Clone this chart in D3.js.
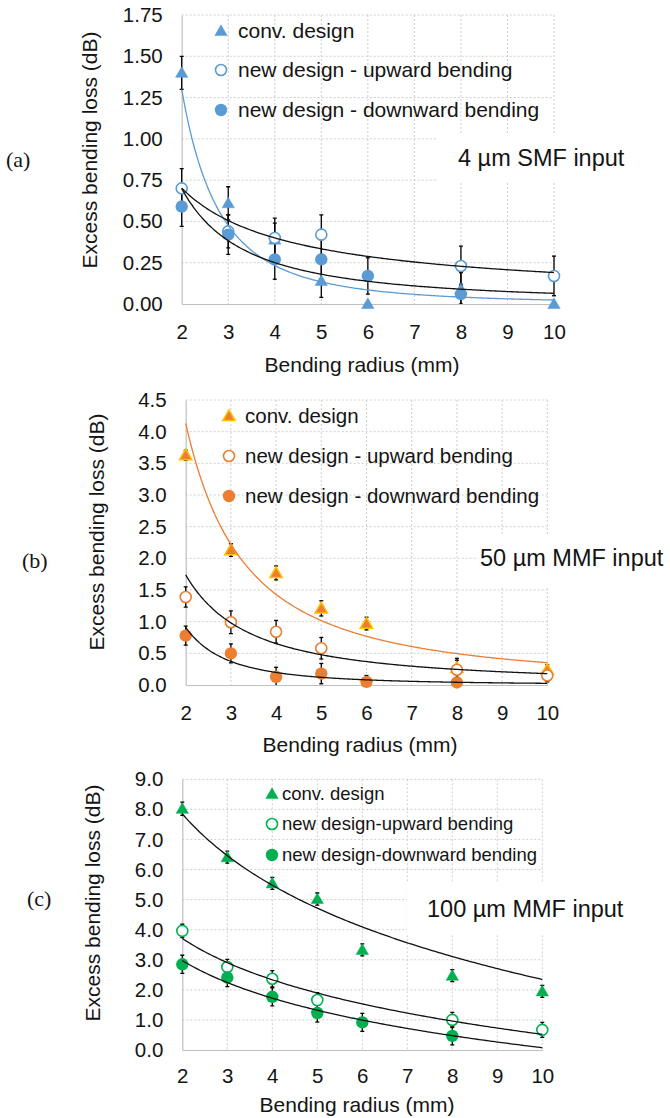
<!DOCTYPE html>
<html>
<head>
<meta charset="utf-8">
<script src="https://cdn.jsdelivr.net/npm/d3@7"></script>
<style>
  html, body { margin: 0; padding: 0; background: #fff; }
  svg { display: block; }
</style>
</head>
<body>
<svg id="fig" width="670" height="1118"></svg>
<script>
// Bending radii (mm) shared by all three panels
const radii = [2, 3, 4, 5, 6, 8, 10];
const xTicks = [2, 3, 4, 5, 6, 7, 8, 9, 10];

// (a) 4 µm SMF input
const aConv = [1.40, 0.61, 0.39, 0.14, 0.00, 0.09, 0.00];
const aConvErr = [0.10, 0.10, 0.10, 0.10, 0.00, 0.10, 0.00];
const aUp = [0.70, 0.44, 0.40, 0.42, null, 0.23, 0.17];
const aUpErr = [0.12, 0.10, 0.12, 0.12, 0, 0.12, 0.12];
const aDown = [0.59, 0.42, 0.27, 0.27, 0.17, 0.06, null];
const aDownErr = [0.12, 0.12, 0.12, 0.12, 0.11, 0.06, 0];
// power-law trendlines y = A * x^B
const aConvFit = [7.25, -2.48];
const aUpFit = [1.23, -0.81];
const aDownFit = [1.95, -1.48];
const aYTicks = [0, 0.25, 0.5, 0.75, 1.0, 1.25, 1.5, 1.75];

// (b) 50 µm MMF input
const bConv = [3.63, 2.13, 1.77, 1.21, 0.97, 0.27, 0.24];
const bConvErr = [0.08, 0.10, 0.11, 0.12, 0.10, 0.15, 0.08];
const bUp = [1.39, 0.99, 0.84, 0.58, null, 0.24, 0.15];
const bUpErr = [0.16, 0.18, 0.18, 0.17, 0, 0.15, 0.10];
const bDown = [0.78, 0.50, 0.13, 0.18, 0.05, 0.04, null];
const bDownErr = [0.15, 0.15, 0.15, 0.16, 0.10, 0.05, 0];
const bConvFit = [11.93, -1.53];
const bUpFit = [4.62, -1.41];
const bDownFit = [4.18, -2.20];
const bYTicks = [0, 0.5, 1.0, 1.5, 2.0, 2.5, 3.0, 3.5, 4.0, 4.5];

// (c) 100 µm MMF input
const cConv = [8.02, 6.41, 5.54, 5.02, 3.33, 2.47, 1.95];
const cConvErr = [0.22, 0.20, 0.20, 0.20, 0.20, 0.20, 0.20];
const cUp = [3.96, 2.76, 2.37, 1.66, null, 1.00, 0.67];
const cUpErr = [0.22, 0.25, 0.27, 0.25, 0, 0.25, 0.25];
const cDown = [2.85, 2.41, 1.77, 1.23, 0.92, 0.47, null];
const cDownErr = [0.30, 0.30, 0.30, 0.30, 0.30, 0.30, 0];
// logarithmic trendlines y = C + D * ln(x)
const cConvFit = [10.22, -3.42];
const cUpFit = [5.08, -1.98];
const cDownFit = [4.22, -1.80];
const cYTicks = [0, 1, 2, 3, 4, 5, 6, 7, 8, 9];

const legendLabelsA = ["conv. design", "new design - upward bending", "new design - downward bending"];
const legendLabelsC = ["conv. design", "new design-upward bending", "new design-downward bending"];

const svg = d3.select("#fig");
const SANS = "'Liberation Sans', Arial, sans-serif";
const SERIF = "'Liberation Serif', 'Times New Roman', serif";
const TXT = "#141414";

const powerFit = p => x => p[0] * Math.pow(x, p[1]);
const logFit = p => x => p[0] + p[1] * Math.log(x);

const panels = [
  {
    id: "a", tag: "(a)", left: 181.7, right: 554, top: 15, bottom: 304,
    yMax: 1.75, yTicks: aYTicks, fmt: ".2f",
    color: "#5B9BD5", triStroke: "#5B9BD5",
    conv: aConv, convErr: aConvErr, up: aUp, upErr: aUpErr, down: aDown, downErr: aDownErr,
    fits: [[powerFit(aConvFit), "#5B9BD5"], [powerFit(aUpFit), "#111"], [powerFit(aDownFit), "#111"]],
    legend: legendLabelsA, legX: 221, legTextX: 238, legY: [31, 70, 110], legFont: 21,
    note: "4 µm SMF input", noteX: 458, noteY: 166, noteBox: [438, 133, 232, 50],
    tagX: 6, tagY: 159, yTitleX: 90, yTitleY: 150, xTitleX: 362, xTitleY: 365, xTickPad: 20
  },
  {
    id: "b", tag: "(b)", left: 185.7, right: 547.3, top: 400, bottom: 685,
    yMax: 4.5, yTicks: bYTicks, fmt: ".1f",
    color: "#ED7D31", triStroke: "#FFC000",
    conv: bConv, convErr: bConvErr, up: bUp, upErr: bUpErr, down: bDown, downErr: bDownErr,
    fits: [[powerFit(bConvFit), "#ED7D31"], [powerFit(bUpFit), "#111"], [powerFit(bDownFit), "#111"]],
    legend: legendLabelsA, legX: 229, legTextX: 245, legY: [416, 456, 496], legFont: 20.5,
    note: "50 µm MMF input", noteX: 480, noteY: 566, noteBox: [478, 535, 192, 53],
    tagX: 22, tagY: 560, yTitleX: 97, yTitleY: 532, xTitleX: 360, xTitleY: 745, xTickPad: 20
  },
  {
    id: "c", tag: "(c)", left: 182.3, right: 542.3, top: 779.3, bottom: 1050,
    yMax: 9, yTicks: cYTicks, fmt: ".1f",
    color: "#00B050", triStroke: "#00B050",
    conv: cConv, convErr: cConvErr, up: cUp, upErr: cUpErr, down: cDown, downErr: cDownErr,
    fits: [[logFit(cConvFit), "#111"], [logFit(cUpFit), "#111"], [logFit(cDownFit), "#111"]],
    legend: legendLabelsC, legX: 272, legTextX: 282, legY: [794, 824, 855], legFont: 18.5,
    note: "100 µm MMF input", noteX: 427, noteY: 917, noteBox: [407, 883, 263, 52],
    tagX: 27, tagY: 898, yTitleX: 93, yTitleY: 903, xTitleX: 357, xTitleY: 1105, xTickPad: 18
  }
];

const triSym = d3.symbol().type(d3.symbolTriangle).size(66);

function drawMarker(g, kind, cx, cy, p) {
  if (kind === "tri") {
    g.append("path").attr("d", triSym())
      .attr("transform", `translate(${cx},${cy + 1})`)
      .attr("fill", p.color).attr("stroke", p.triStroke).attr("stroke-width", p.id === "b" ? 1.5 : 0.5);
  } else if (kind === "open") {
    g.append("circle").attr("cx", cx).attr("cy", cy).attr("r", 5.5)
      .attr("fill", "#fff").attr("stroke", p.color).attr("stroke-width", 1.6);
  } else {
    g.append("circle").attr("cx", cx).attr("cy", cy).attr("r", 6.2)
      .attr("fill", p.color);
  }
}

panels.forEach(p => {
  const x = d3.scaleLinear().domain([2, 10]).range([p.left, p.right]);
  const y = d3.scaleLinear().domain([0, p.yMax]).range([p.bottom, p.top]);
  const g = svg.append("g").attr("class", "panel-" + p.id);

  // clip region for trendlines and error bars
  const clipId = "clip-" + p.id;
  svg.append("clipPath").attr("id", clipId).append("rect")
    .attr("x", p.left - 10).attr("y", p.top - 10)
    .attr("width", p.right - p.left + 20).attr("height", p.bottom - p.top + 10);

  // dotted grid
  const grid = g.append("g").attr("stroke", "#cfcfcf").attr("stroke-width", 1).attr("stroke-dasharray", "2,2");
  p.yTicks.forEach(t => {
    if (t === 0) return;
    grid.append("line").attr("x1", p.left).attr("x2", p.right).attr("y1", y(t)).attr("y2", y(t));
  });
  xTicks.forEach(t => {
    if (t === 2) return;
    grid.append("line").attr("x1", x(t)).attr("x2", x(t)).attr("y1", p.top).attr("y2", p.bottom);
  });

  // axes
  const yAxis = g.append("g").attr("transform", `translate(${p.left},0)`)
    .call(d3.axisLeft(y).tickValues(p.yTicks).tickFormat(d3.format(p.fmt)).tickSize(0).tickPadding(19));
  const xAxis = g.append("g").attr("transform", `translate(0,${p.bottom})`)
    .call(d3.axisBottom(x).tickValues(xTicks).tickFormat(d3.format("d")).tickSize(0).tickPadding(p.xTickPad));
  [yAxis, xAxis].forEach(ax => {
    ax.select(".domain").attr("stroke", "#bfbfbf").attr("stroke-width", 1.2);
    ax.selectAll("text").attr("font-family", SANS).attr("font-size", 20.5).attr("fill", TXT);
  });

  // annotation box and text
  g.append("rect").attr("x", p.noteBox[0]).attr("y", p.noteBox[1])
    .attr("width", p.noteBox[2]).attr("height", p.noteBox[3]).attr("fill", "#fff");
  g.append("text").attr("x", p.noteX).attr("y", p.noteY).text(p.note)
    .attr("font-family", SANS).attr("font-size", 23.5).attr("fill", TXT);

  // series: error bars then markers
  const series = [
    ["tri", p.conv, p.convErr],
    ["open", p.up, p.upErr],
    ["fill", p.down, p.downErr]
  ];
  const eb = g.append("g").attr("clip-path", `url(#${clipId})`).attr("stroke", "#000").attr("stroke-width", 1.3);
  const mk = g.append("g");
  series.forEach(([kind, vals, errs]) => {
    radii.forEach((r, i) => {
      const v = vals[i];
      if (v === null) return;
      const e = errs[i];
      if (e > 0) {
        const cx = x(r);
        eb.append("line").attr("x1", cx).attr("x2", cx).attr("y1", y(v + e)).attr("y2", y(v - e));
        eb.append("line").attr("x1", cx - 2).attr("x2", cx + 2).attr("y1", y(v + e)).attr("y2", y(v + e));
        eb.append("line").attr("x1", cx - 2).attr("x2", cx + 2).attr("y1", y(v - e)).attr("y2", y(v - e));
      }
      drawMarker(mk, kind, x(r), y(v), p);
    });
  });

  // trendlines
  const fg = g.append("g").attr("clip-path", `url(#${clipId})`);
  const xs = d3.range(2, 10.0001, 0.05);
  const line = d3.line().x(d => x(d[0])).y(d => y(d[1])).curve(d3.curveMonotoneX);
  p.fits.forEach(([f, col]) => {
    fg.append("path").attr("d", line(xs.map(v => [v, f(v)])))
      .attr("fill", "none").attr("stroke", col).attr("stroke-width", 1.3);
  });

  // legend
  const kinds = ["tri", "open", "fill"];
  p.legend.forEach((lab, i) => {
    drawMarker(g, kinds[i], p.legX, p.legY[i], p);
    g.append("text").attr("x", p.legTextX).attr("y", p.legY[i]).attr("dy", "0.35em")
      .text(lab).attr("font-family", SANS).attr("font-size", p.legFont).attr("fill", TXT);
  });

  // axis titles
  g.append("text").attr("transform", `translate(${p.yTitleX},${p.yTitleY}) rotate(-90)`)
    .attr("text-anchor", "middle").attr("dy", "0.35em").text("Excess bending loss (dB)")
    .attr("font-family", SANS).attr("font-size", 21).attr("fill", TXT);
  g.append("text").attr("x", p.xTitleX).attr("y", p.xTitleY).attr("text-anchor", "middle").attr("dy", "0.35em")
    .text("Bending radius (mm)").attr("font-family", SANS).attr("font-size", 21).attr("fill", TXT);

  // panel tag
  g.append("text").attr("x", p.tagX).attr("y", p.tagY).attr("dy", "0.35em").text(p.tag)
    .attr("font-family", SERIF).attr("font-size", 22).attr("fill", TXT);
});
</script>
</body>
</html>
